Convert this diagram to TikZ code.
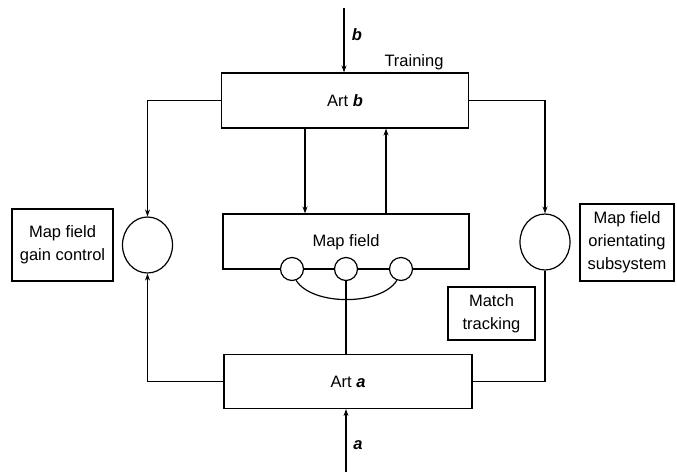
\documentclass[tikz,border=0pt]{standalone}
\usepackage{fontspec}
\setmainfont{Liberation Sans}
\usetikzlibrary{arrows.meta,positioning,calc,shapes.geometric}

\begin{document}
\begin{tikzpicture}[x=1pt,y=-1pt,line width=1.2pt,
  every node/.style={font=\fontsize{16.5}{23}\selectfont},
  box/.style={draw,rectangle,inner sep=0pt,align=center},
  gate/.style={draw,ellipse,inner sep=0pt,minimum width=50pt,minimum height=56pt},
  unit/.style={draw,circle,fill=white,inner sep=0pt,minimum size=23pt},
  arr/.style={-{Stealth[length=7pt,width=5pt]}}]
  \useasboundingbox (0,0) rectangle (677,472);
  % main blocks
  \node[box,minimum width=247pt,minimum height=55pt] (artb) at (345,100.5) {Art \textbf{\textit{b}}};
  \node[box,minimum width=246pt,minimum height=55pt] (mapf) at (346,241.5) {};
  \node (mapftxt) at (346,242) {Map field};
  \node[box,minimum width=248pt,minimum height=54pt] (arta) at (348,381.5) {Art \textbf{\textit{a}}};
  % side boxes
  \node[box,minimum width=101pt,minimum height=72pt] (gainbox) at (62.5,245) {Map field\\gain control};
  \node[box,minimum width=94pt,minimum height=77pt] (orientbox) at (627,242.5) {Map field\\orientating\\subsystem};
  \node[box,minimum width=87pt,minimum height=53pt] (match) at (491.5,313.5) {Match\\tracking};
  % gates
  \node[gate] (gainc) at (147.5,245) {};
  \node[gate] (orientc) at (545,242) {};
  % map field units
  \node[unit] (u1) at (292,269) {};
  \node[unit] (u2) at (346,269) {};
  \node[unit] (u3) at (401,269) {};
  \draw (u1.-70) .. controls (312,306) and (381,306) .. (u3.-110);
  % inputs
  \coordinate (btop) at (344,8);
  \coordinate (abot) at (346,472);
  \draw[arr] (btop) -- (btop |- artb.north);
  \node (blbl) at (357,35) {\textbf{\textit{b}}};
  \node (train) at (414,62) {Training};
  \draw[arr] (abot) -- (abot |- arta.south);
  \node (albl) at (358,445) {\textbf{\textit{a}}};
  % connections
  \draw[arr] (artb.west) -| (gainc.north);
  \draw[arr] (artb.east) -| (orientc.north);
  \draw[arr] ([xshift=-40pt]artb.south) -- ([xshift=-40pt]artb.south |- mapf.north);
  \draw[arr] ([xshift=41pt]artb.south |- mapf.north) -- ([xshift=41pt]artb.south);
  \draw (u2.south) -- (u2.south |- arta.north);
  \draw[arr] (arta.west) -| (gainc.south);
  \draw (orientc.south) |- (arta.east);
\end{tikzpicture}
\end{document}
